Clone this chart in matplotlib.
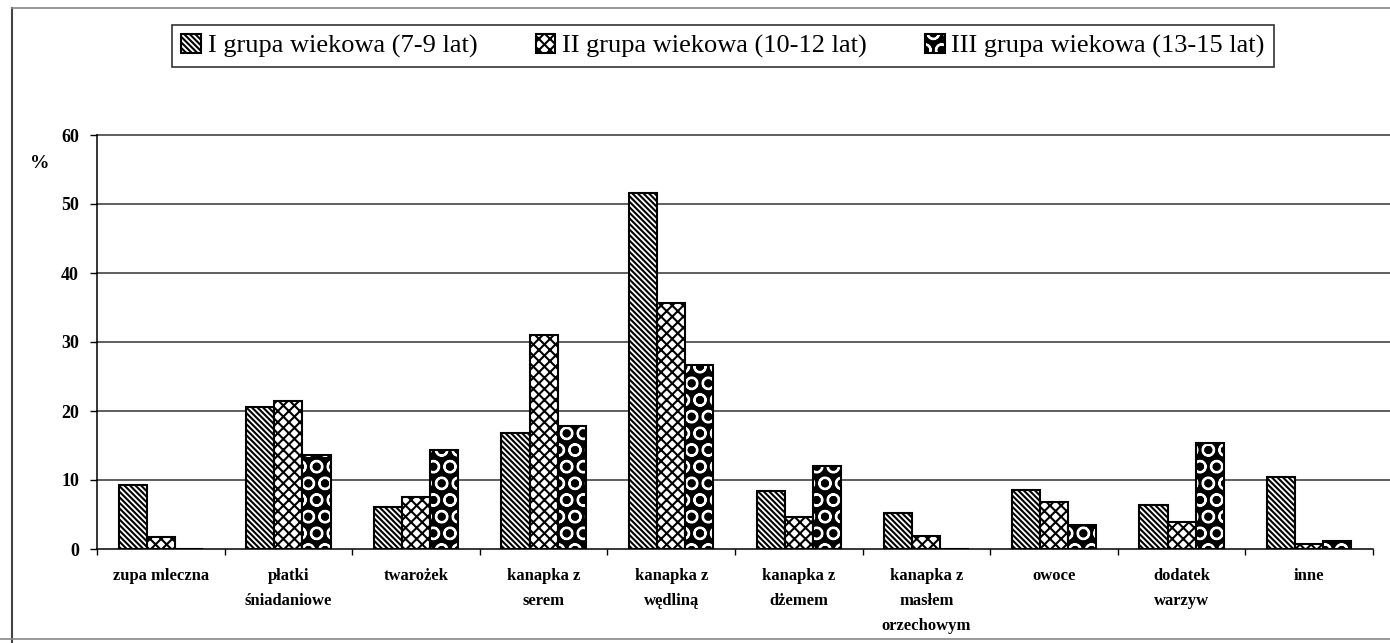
import matplotlib
matplotlib.use("Agg")
import matplotlib.pyplot as plt
import matplotlib.transforms as mtransforms
from matplotlib.patches import Patch
from matplotlib.lines import Line2D
from matplotlib.legend_handler import HandlerTuple
import numpy as np

categories = ["zupa mleczna", "płatki\nśniadaniowe", "twarożek", "kanapka z\nserem",
              "kanapka z\nwędliną", "kanapka z\ndżemem", "kanapka z\nmasłem\norzechowym",
              "owoce", "dodatek\nwarzyw", "inne"]
group_i = [9.3, 20.6, 6.1, 16.8, 51.6, 8.4, 5.2, 8.5, 6.4, 10.5]
group_ii = [1.7, 21.4, 7.5, 31.0, 35.7, 4.6, 1.9, 6.8, 3.9, 0.7]
group_iii = [0.0, 13.6, 14.3, 17.8, 26.7, 12.0, 0.0, 3.5, 15.4, 1.2]
series_labels = ["I grupa wiekowa (7-9 lat)", "II grupa wiekowa (10-12 lat)",
                 "III grupa wiekowa (13-15 lat)"]
yticks = [0, 10, 20, 30, 40, 50, 60]

plt.rcParams["font.family"] = ["Liberation Serif", "DejaVu Serif"]
plt.rcParams["hatch.linewidth"] = 1.5

W, H = 1390, 643
fig = plt.figure(figsize=(W / 100, H / 100), dpi=100)
ax = fig.add_axes([97 / W, 1 - 549 / H, (1373 - 97) / W, (549 - 135) / H])

x = np.arange(len(categories))
bw = 0.22
# fill layer (hatch colour follows the edge colour) and outline layer per series
fills = [
    dict(facecolor="white", edgecolor="black", hatch="\\\\\\\\\\\\", linewidth=0),
    dict(facecolor="white", edgecolor="black", hatch="xxx", linewidth=0),
    dict(facecolor="black", edgecolor="white", hatch="O", linewidth=0),
]
outline = dict(fill=False, edgecolor="black", linewidth=1.5)

for k, vals in enumerate([group_i, group_ii, group_iii]):
    pos = x + (k - 1) * bw
    ax.bar(pos, vals, width=bw, **fills[k])
    ax.bar(pos, vals, width=bw, **outline)

ax.set_xlim(-0.5, len(categories) - 0.5)
ax.set_ylim(0, 60)

# horizontal gridlines reaching slightly beyond the axes on the right
trans = mtransforms.blended_transform_factory(ax.transAxes, ax.transData)
for yv in yticks[1:]:
    ax.add_line(Line2D([0, 1.015], [yv, yv], transform=trans, color="#333333",
                       linewidth=1.1, clip_on=False, zorder=0.5))

ax.set_yticks(yticks)
ax.set_yticklabels([str(v) for v in yticks], fontsize=13, fontweight="bold")
ax.tick_params(axis="y", length=5, width=1, direction="out", pad=8)

ax.set_xticks(x)
ax.set_xticklabels(categories, fontsize=12, fontweight="bold", linespacing=1.75,
                   va="top")
ax.tick_params(axis="x", which="major", length=0, pad=14)
ax.set_xticks(np.arange(-0.5, len(categories) + 0.5, 1.0), minor=True)
ax.tick_params(axis="x", which="minor", length=4, width=1, direction="out")

for s in ["top", "right"]:
    ax.spines[s].set_visible(False)
ax.spines["left"].set_linewidth(1.1)
ax.spines["bottom"].set_linewidth(1.1)

fig.text(40 / W, 1 - 163 / H, "%", fontsize=14, fontweight="bold",
         ha="center", va="center")

handles = [(Patch(**fills[k]), Patch(**outline)) for k in range(3)]
leg = fig.legend(handles, series_labels, loc="center",
                 bbox_to_anchor=(723 / W, 1 - 46 / H), ncol=3, fontsize=19,
                 frameon=True, fancybox=False, edgecolor="black",
                 handlelength=0.75, handleheight=0.75, handletextpad=0.25,
                 columnspacing=2.2, borderpad=0.35,
                 handler_map={tuple: HandlerTuple(ndivide=1, pad=0)})
leg.get_frame().set_linewidth(1.2)

# outer frame around the chart
fig.add_artist(Line2D([12 / W, 12 / W], [0, 1 - 8 / H], transform=fig.transFigure,
                      color="#444444", linewidth=1.5))
fig.add_artist(Line2D([12 / W, 1], [1 - 8 / H, 1 - 8 / H], transform=fig.transFigure,
                      color="#888888", linewidth=1.2))
fig.add_artist(Line2D([0, 1], [1 - 639 / H, 1 - 639 / H], transform=fig.transFigure,
                      color="#888888", linewidth=1.2))

fig.savefig("out.png", dpi=100)
